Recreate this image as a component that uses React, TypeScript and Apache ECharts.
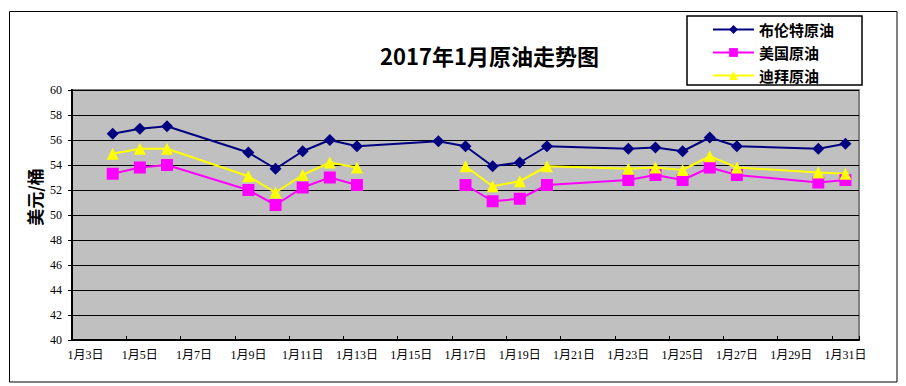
import React, { useEffect, useRef } from "react";
import * as echarts from "echarts";

const categories = [
  "1月3日", "1月4日", "1月5日", "1月6日", "1月7日", "1月8日", "1月9日", "1月10日",
  "1月11日", "1月12日", "1月13日", "1月14日", "1月15日", "1月16日", "1月17日", "1月18日",
  "1月19日", "1月20日", "1月21日", "1月22日", "1月23日", "1月24日", "1月25日", "1月26日",
  "1月27日", "1月28日", "1月29日", "1月30日", "1月31日",
];

// trading days (day of January)
const tradeDays = [4, 5, 6, 9, 10, 11, 12, 13, 16, 17, 18, 19, 20, 23, 24, 25, 26, 27, 30, 31];

const brentValues = [56.5, 56.9, 57.1, 55.0, 53.7, 55.1, 56.0, 55.5, 55.9, 55.5, 53.9, 54.2, 55.5, 55.3, 55.4, 55.1, 56.2, 55.5, 55.3, 55.7];
const wtiValues = [53.3, 53.8, 54.0, 52.0, 50.8, 52.2, 53.0, 52.4, null, 52.4, 51.1, 51.3, 52.4, 52.8, 53.2, 52.8, 53.8, 53.2, 52.6, 52.8];
const dubaiValues = [54.9, 55.3, 55.3, 53.1, 51.8, 53.2, 54.2, 53.8, null, 53.9, 52.3, 52.7, 53.9, 53.7, 53.8, 53.6, 54.7, 53.8, 53.4, 53.3];

const seriesNames = ["布伦特原油", "美国原油", "迪拜原油"];
const titleText = "2017年1月原油走势图";
const yName = "美元/桶";

const pair = (vals: (number | null)[]) =>
  tradeDays.map((d, i) => [d, vals[i] === null ? "-" : vals[i]]);

const labelFont = "'Liberation Serif', 'Noto Sans CJK SC', serif";
const cjkFont = "'Noto Sans CJK SC', sans-serif";

export default function App() {
  const ref = useRef<HTMLDivElement>(null);
  useEffect(() => {
    const chart = echarts.init(ref.current!, null, { renderer: "svg" });
    chart.setOption({
      animation: false,
      backgroundColor: "#ffffff",
      title: {
        text: titleText,
        left: 380,
        top: 44,
        padding: 0,
        textStyle: { fontFamily: cjkFont, fontSize: 22, fontWeight: "bold", color: "#000" },
      },
      graphic: [
        {
          type: "rect",
          shape: { x: 9.5, y: 11.5, width: 887.5, height: 370.5 },
          style: { fill: "none", stroke: "#000", lineWidth: 1 },
          z: -1,
        },
        {
          type: "rect",
          shape: { x: 687, y: 16, width: 175, height: 69 },
          style: { fill: "#fff", stroke: "#000", lineWidth: 1.5 },
          z: 0,
        },
        {
          type: "text",
          x: 34,
          y: 197,
          rotation: Math.PI / 2,
          style: {
            text: yName,
            fill: "#000",
            fontSize: 17,
            fontWeight: "bold",
            fontFamily: cjkFont,
            align: "center",
            verticalAlign: "middle",
          },
        },
      ],
      legend: {
        orient: "vertical",
        left: 712,
        top: 22,
        padding: 0,
        itemWidth: 41,
        itemHeight: 11,
        itemGap: 8,
        data: seriesNames,
        textStyle: { fontFamily: cjkFont, fontSize: 15, fontWeight: "bold", color: "#000", lineHeight: 14 },
        z: 5,
      },
      grid: {
        left: 72,
        top: 90,
        right: 47,
        bottom: 46,
        show: true,
        backgroundColor: "#C0C0C0",
        borderColor: "#808080",
        borderWidth: 2,
      },
      xAxis: [
        {
          type: "category",
          data: categories,
          boundaryGap: true,
          axisLine: { lineStyle: { color: "#000", width: 2 } },
          axisTick: { show: true, interval: 1, inside: true, length: 4, lineStyle: { color: "#000" } },
          axisLabel: { interval: 1, margin: 9, fontSize: 12, color: "#000", fontFamily: labelFont },
          splitLine: { show: false },
        },
        {
          type: "value",
          min: 2.5,
          max: 31.5,
          show: false,
          splitLine: { show: false },
        },
      ],
      yAxis: {
        type: "value",
        min: 40,
        max: 60,
        interval: 2,
        axisLine: { show: true, lineStyle: { color: "#000", width: 2 } },
        axisTick: { show: true, length: 4, lineStyle: { color: "#000" } },
        axisLabel: { margin: 10, fontSize: 12, color: "#000", fontFamily: labelFont },
        splitLine: { show: true, lineStyle: { color: "#000", width: 1 } },
      },
      series: [
        {
          name: seriesNames[0],
          type: "line",
          xAxisIndex: 1,
          data: pair(brentValues),
          symbol: "diamond",
          symbolSize: 12,
          itemStyle: { color: "#000080" },
          lineStyle: { color: "#000080", width: 2 },
          connectNulls: false,
        },
        {
          name: seriesNames[1],
          type: "line",
          xAxisIndex: 1,
          data: pair(wtiValues),
          symbol: "rect",
          symbolSize: 12,
          itemStyle: { color: "#FF00FF" },
          lineStyle: { color: "#FF00FF", width: 2 },
          connectNulls: false,
        },
        {
          name: seriesNames[2],
          type: "line",
          xAxisIndex: 1,
          data: pair(dubaiValues),
          symbol: "triangle",
          symbolSize: 12,
          itemStyle: { color: "#FFFF00" },
          lineStyle: { color: "#FFFF00", width: 2 },
          connectNulls: false,
        },
      ],
    });
    return () => chart.dispose();
  }, []);
  return (
    <div
      ref={ref}
      style={{ position: "fixed", left: 0, top: 0, width: 906, height: 386, background: "#fff" }}
    />
  );
}
